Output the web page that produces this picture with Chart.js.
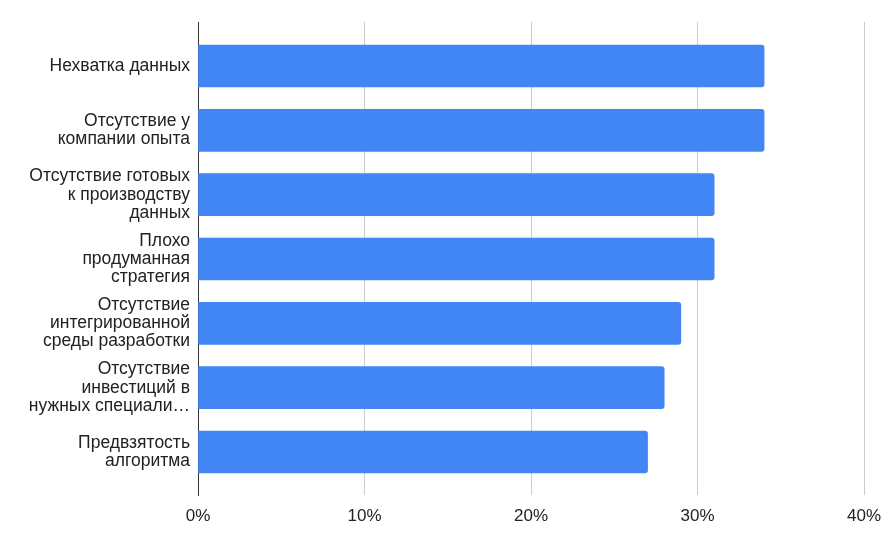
<!DOCTYPE html>
<html>
<head>
<meta charset="utf-8">
<script src="https://cdn.jsdelivr.net/npm/chart.js@4"></script>
<style>
  html, body { margin: 0; padding: 0; background: #fff; }
  #wrap { width: 889px; height: 536px; }
</style>
</head>
<body>
<div id="wrap"><canvas id="chart"></canvas></div>
<script>
// Reasons (multi-line labels as shown)
const categories = [
    ["Нехватка данных"],
    ["Отсутствие у", "компании опыта"],
    ["Отсутствие готовых", "к производству", "данных"],
    ["Плохо", "продуманная", "стратегия"],
    ["Отсутствие", "интегрированной", "среды разработки"],
    ["Отсутствие", "инвестиций в", "нужных специали…"],
    ["Предвзятость", "алгоритма"]
];
const values = [34, 34, 31, 31, 29, 28, 27];
const xTicks = [0, 10, 20, 30, 40];

const font = "'Liberation Sans', Arial, sans-serif";

const ctx = document.getElementById('chart').getContext('2d');
const chart = new Chart(ctx, {
    type: 'bar',
    data: {
        datasets: [{
            data: values.map((v, i) => ({ x: v, y: i })),
            backgroundColor: '#4285F4',
            borderRadius: 3,
            borderSkipped: 'start',
            barThickness: 42
        }]
    },
    options: {
        indexAxis: 'y',
        responsive: true,
        maintainAspectRatio: false,
        animation: false,
        layout: { padding: { top: 22, right: 25, left: 0, bottom: 0 } },
        plugins: { legend: { display: false }, tooltip: { enabled: false } },
        scales: {
            x: {
                type: 'linear',
                min: 0,
                max: 40,
                afterBuildTicks: (scale) => { scale.ticks = xTicks.map(v => ({ value: v })); },
                afterFit: (scale) => {
                    scale.height = 41;
                    scale.paddingLeft = 0;
                    scale.paddingRight = 0;
                },
                grid: {
                    color: (c) => c.tick && c.tick.value === 0 ? '#333333' : '#cccccc',
                    lineWidth: 1,
                    drawTicks: false
                },
                border: { display: false },
                ticks: {
                    padding: 11,
                    color: '#222222',
                    font: { family: font, size: 17 },
                    callback: (v) => v + '%'
                }
            },
            y: {
                type: 'linear',
                reverse: true,
                offset: false,
                min: -0.684,
                max: 6.668,
                afterBuildTicks: (scale) => { scale.ticks = categories.map((_, i) => ({ value: i })); },
                afterFit: (scale) => {
                    scale.width = 198;
                    scale.paddingTop = 0;
                    scale.paddingBottom = 0;
                },
                grid: { display: false, drawTicks: false, offset: false },
                border: { display: true, color: '#333333', width: 1 },
                ticks: {
                    padding: 8,
                    color: '#222222',
                    font: { family: font, size: 17.5, lineHeight: 1.04 },
                    callback: (v) => categories[v]
                }
            }
        }
    }
});
</script>
</body>
</html>
